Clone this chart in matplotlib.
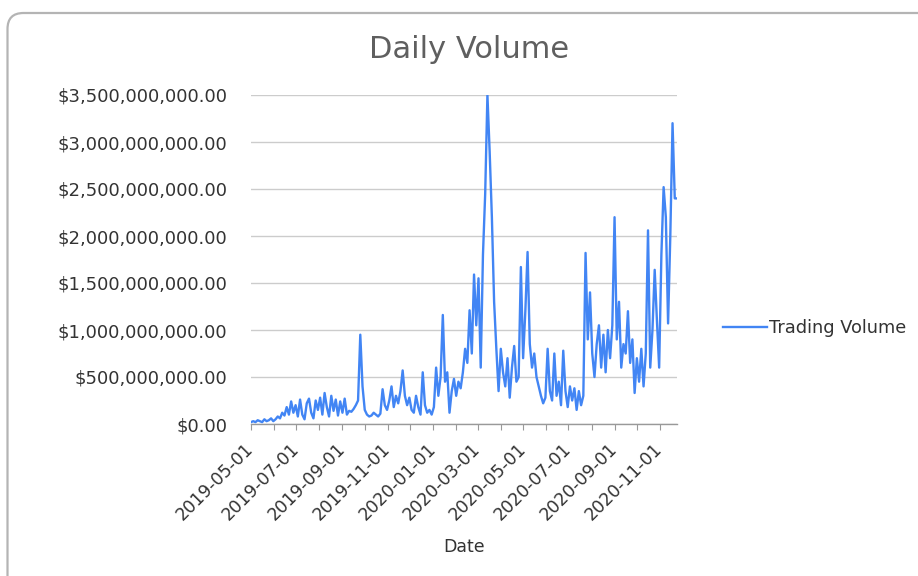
import numpy as np
import pandas as pd
import matplotlib
matplotlib.use("Agg")
import matplotlib.pyplot as plt
from matplotlib.patches import FancyBboxPatch
from matplotlib.ticker import FuncFormatter

# trading volume in billions of dollars, one reading every 3 days from 2019-05-01
volume_bn = [
    # May 2019
    0.02, 0.03, 0.02, 0.04, 0.03, 0.02, 0.05, 0.03, 0.04, 0.06, 0.03,
    # Jun
    0.05, 0.08, 0.06, 0.12, 0.09, 0.18, 0.10, 0.24, 0.12, 0.20,
    # Jul
    0.08, 0.26, 0.10, 0.05, 0.22, 0.27, 0.12, 0.06, 0.25, 0.15,
    # Aug
    0.28, 0.10, 0.33, 0.18, 0.08, 0.30, 0.14, 0.26, 0.09, 0.24,
    # Sep
    0.12, 0.27, 0.10, 0.14, 0.13, 0.16, 0.20, 0.25, 0.95, 0.40,
    # Oct
    0.15, 0.10, 0.08, 0.09, 0.12, 0.10, 0.08, 0.11, 0.37, 0.20,
    # Nov
    0.15, 0.25, 0.40, 0.18, 0.30, 0.22, 0.35, 0.57, 0.30, 0.20,
    # Dec
    0.28, 0.15, 0.12, 0.30, 0.18, 0.10, 0.55, 0.20, 0.12, 0.15,
    # Jan 2020
    0.10, 0.18, 0.60, 0.30, 0.50, 1.16, 0.45, 0.55, 0.12, 0.35,
    # Feb
    0.48, 0.30, 0.45, 0.38, 0.55, 0.80, 0.65, 1.21, 0.75, 1.59,
    # Mar
    1.05, 1.55, 0.60, 1.80, 2.45, 3.50, 2.90, 2.20, 1.30, 0.80,
    # Apr
    0.35, 0.80, 0.55, 0.40, 0.70, 0.28, 0.60, 0.83, 0.45, 0.50,
    # May
    1.67, 0.70, 1.20, 1.83, 0.85, 0.60, 0.75, 0.50, 0.40, 0.30,
    # Jun
    0.22, 0.28, 0.80, 0.35, 0.25, 0.75, 0.30, 0.45, 0.20, 0.78,
    # Jul
    0.35, 0.18, 0.40, 0.25, 0.38, 0.15, 0.35, 0.20, 0.30, 1.82,
    # Aug
    0.90, 1.40, 0.75, 0.50, 0.85, 1.05, 0.60, 0.95, 0.55, 1.00,
    # Sep
    0.70, 1.05, 2.20, 0.90, 1.30, 0.60, 0.85, 0.75, 1.20, 0.65,
    # Oct
    0.90, 0.33, 0.70, 0.45, 0.80, 0.40, 0.75, 2.06, 0.60, 1.00,
    # Nov
    1.64, 1.10, 0.60, 1.80, 2.52, 2.20, 1.07, 2.00, 3.20, 2.40, 2.40,
]
dates = pd.date_range("2019-05-01", periods=len(volume_bn), freq="3D")
volume = np.array(volume_bn) * 1e9

tick_dates = pd.date_range("2019-05-01", "2020-11-01", freq="MS")
tick_labels = [d.strftime("%Y-%m-%d") if i % 2 == 0 else "" for i, d in enumerate(tick_dates)]

title = "Daily Volume"
series_name = "Trading Volume"
x_title = "Date"

blue = "#4285f4"
txt = "#333333"
grid = "#cccccc"

plt.rcParams["font.family"] = ["DejaVu Sans"]

fig = plt.figure(figsize=(9.18, 5.76), dpi=100)
fig.patch.set_facecolor("white")

# rounded card border (runs off the right and bottom edge)
card = FancyBboxPatch((0.075, -0.3), 9.3, 5.93, boxstyle="round,pad=0,rounding_size=0.16",
                      transform=fig.dpi_scale_trans, facecolor="none",
                      edgecolor="#b4b4b4", linewidth=1.6, zorder=-1)
fig.patches.append(card)

ax = fig.add_axes([251 / 918, 1 - 424 / 576, (677 - 251) / 918, (424 - 95) / 576])
ax.set_facecolor("none")

ax.plot(dates, volume, color=blue, linewidth=1.7, label=series_name, zorder=3)

ax.set_ylim(0, 3.5e9)
ax.set_yticks(np.arange(0, 3.5e9 + 1, 5e8))
ax.yaxis.set_major_formatter(FuncFormatter(lambda v, p: f"${v:,.2f}"))
ax.set_xlim(dates[0], dates[-1])
ax.set_xticks(tick_dates)
ax.set_xticklabels(tick_labels)

ax.grid(axis="y", color=grid, linewidth=1.0, zorder=1)
for s in ["top", "right", "left"]:
    ax.spines[s].set_visible(False)
ax.spines["bottom"].set_color("#999999")
ax.spines["bottom"].set_linewidth(1.0)
ax.spines["bottom"].set_zorder(4)

ax.tick_params(axis="y", length=0, pad=17, labelsize=13, labelcolor=txt)
ax.tick_params(axis="x", length=4, color="#999999", pad=12, labelsize=12.5, labelcolor=txt)
for lab in ax.get_xticklabels():
    lab.set_rotation(45)
    lab.set_ha("right")
    lab.set_va("center")
    lab.set_rotation_mode("anchor")

ax.set_xlabel(x_title, fontsize=12.5, color=txt, labelpad=10)
fig.text(469 / 918, 1 - 49 / 576, title, ha="center", va="center", fontsize=22, color="#5f5f5f")

fig.legend(loc="center left", bbox_to_anchor=(707 / 918, 1 - 328 / 576), frameon=False,
           fontsize=12.8, handlelength=2.5, handletextpad=0.1, labelcolor=txt)

fig.savefig("out.png", dpi=100)
